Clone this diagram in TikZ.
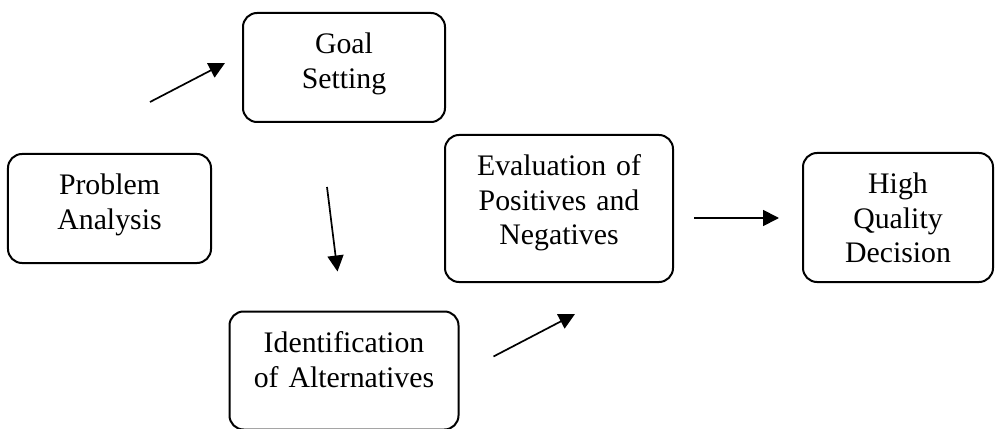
\documentclass[tikz,border=0pt]{standalone}
\usepackage{fontspec}
\setmainfont{Liberation Serif}
\usetikzlibrary{arrows.meta,positioning}

\begin{document}
\begin{tikzpicture}[x=1pt,y=1pt,node distance=100pt,every node/.style={font=\fontsize{29.8pt}{34.5pt}\selectfont},box/.style={rectangle,draw,rounded corners=14pt,line width=2pt,inner sep=0,align=center,text height=41pt},blank/.style={minimum width=0mm,inner sep=0mm,outer sep=0mm,draw=none},flow/.style={line width=1.7pt,-{Triangle[length=16pt,width=16pt]}}]

\useasboundingbox (-109.5,208.5) rectangle (885.5,-219.5);

% Nodes
\node[box,text width=203pt,text depth=68pt] (pa) {Problem\\Analysis};
\node[box,right of = pa,xshift=134.5pt,yshift=141pt,text width=202pt,text depth=68pt] (gs) {Goal\\Setting};
\node[box,below of = gs,yshift=-203pt,text width=229pt,text depth=77pt] (ia) {Identification\\of Alternatives};
\node[box,right of = pa,xshift=349.5pt,text width=228pt,text depth=106pt] (ev) {Evaluation of\\Positives and\\Negatives};
\node[box,right of = ev,xshift=239pt,yshift=-9pt,text width=190pt,text depth=88pt] (hq) {High\\Quality\\Decision};

% arrow ends
\node (c1) [blank] at ([xshift=-92pt,yshift=-34.5pt]gs.west){};
\node (c2) [blank] at ([xshift=-17pt,yshift=4.5pt]gs.west){};
\node (c3) [blank] at ([xshift=-17pt,yshift=-64pt]gs.south){};
\node (c4) [blank] at ([xshift=-6.5pt,yshift=39pt]ia.north){};
\node (c5) [blank] at ([xshift=34pt,yshift=14pt]ia.east){};
\node (c6) [blank] at ([xshift=16pt,yshift=-31pt]ev.south){};
\node (c7) [blank] at ([xshift=20pt,yshift=-9.5pt]ev.east){};
\node (c8) [blank] at ([xshift=-23pt,yshift=-0.5pt]hq.west){};

%arcs
\path (c1) edge[flow] (c2);
\path (c3) edge[flow] (c4);
\path (c5) edge[flow] (c6);
\path (c7) edge[flow] (c8);

\end{tikzpicture}
\end{document}
